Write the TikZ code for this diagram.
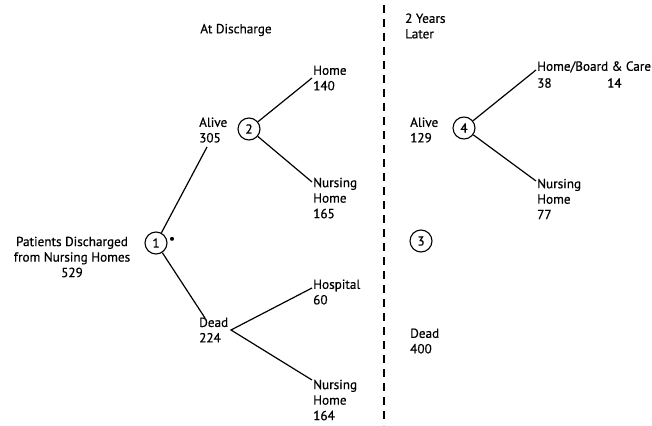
\documentclass[tikz,border=0pt]{standalone}
\usepackage{fontspec}
\setmainfont{PT Sans}[FakeBold=0.6]
\begin{document}
\begin{tikzpicture}[x=1pt,y=-1pt,
  every node/.style={font=\fontsize{13.2}{15.5}\selectfont},
  lbl/.style={anchor=west,align=left,inner sep=0pt},
  circ/.style={circle,draw,line width=1.1pt,minimum size=22pt,inner sep=0pt},
  conn/.style={line width=1.2pt}]
\useasboundingbox (0,0) rectangle (652,425);
% headings
\node[inner sep=0pt] (atd) at (236,30) {At Discharge};
\node[lbl] (later) at (405,26) {2 Years\\Later};
\draw[line width=1.1pt,dash pattern=on 8pt off 6pt] (384,5) -- (384,425);
% root
\node[inner sep=0pt,align=center] (pat) at (72,257) {Patients Discharged\\from Nursing Homes\\529};
\node[circ] (c1) at (156,243) {1};
\node[inner sep=0pt] (dot) at (172,240) {\textbullet};
% level 1
\node[lbl] (alive1) at (199,130) {Alive\\305};
\node[lbl] (dead1) at (199,330) {Dead\\224};
\coordinate (a1e) at (207,147);
\coordinate (d1e) at (205,318);
\draw[conn] (c1) -- (a1e);
\draw[conn] (c1) -- (d1e);
% circle 2
\node[circ] (c2) at (249,129) {2};
\node[lbl] (home1) at (313,78) {Home\\140};
\node[lbl] (nh1) at (313,198) {Nursing\\Home\\165};
\coordinate (h1e) at (312,78);
\coordinate (n1e) at (312,182);
\draw[conn] (c2) -- (h1e);
\draw[conn] (c2) -- (n1e);
% dead branches
\node[lbl] (hosp) at (313,292) {Hospital\\60};
\node[lbl] (nh2) at (313,400) {Nursing\\Home\\164};
\coordinate (dv) at (231,330);
\coordinate (hse) at (312,288);
\coordinate (n2e) at (312,380);
\draw[conn] (hse) -- (dv) -- (n2e);
% 2 years later
\node[lbl] (alive2) at (410,130) {Alive\\129};
\node[circ] (c4) at (464,128) {4};
\node[lbl] (hb) at (537,67) {Home/Board \& Care};
\node[lbl] (n38) at (537,83) {38};
\node[lbl] (n14) at (607,83) {14};
\node[lbl] (nh3) at (537,199) {Nursing\\Home\\77};
\coordinate (hbe) at (536,70);
\coordinate (n3e) at (536,181);
\draw[conn] (c4) -- (hbe);
\draw[conn] (c4) -- (n3e);
\node[circ] (c3) at (421,241) {3};
\node[lbl] (dead2) at (410,341) {Dead\\400};
\end{tikzpicture}
\end{document}
